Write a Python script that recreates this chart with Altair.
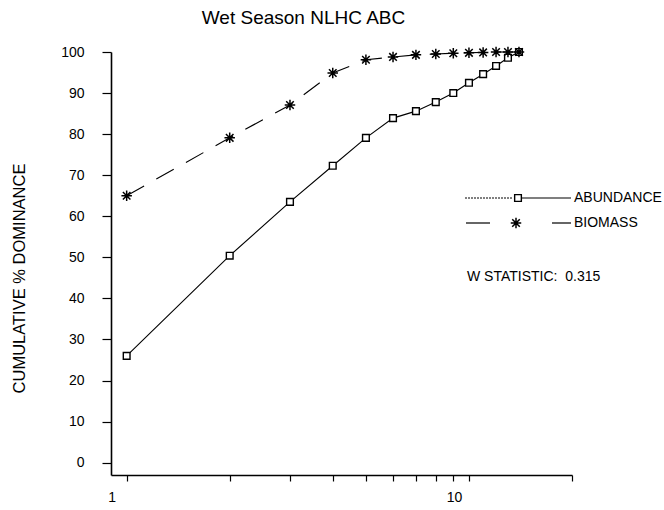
import altair as alt
import pandas as pd

# ---- data ----
ranks = list(range(1, 15))
abundance = [26.0, 50.4, 63.5, 72.3, 79.1, 83.9, 85.6, 87.8, 90.0, 92.5, 94.6, 96.6, 98.6, 100.0]
biomass = [65.0, 79.1, 87.1, 94.9, 98.1, 98.8, 99.3, 99.5, 99.7, 99.8, 99.9, 100.0, 100.0, 100.0]
x_ticks = [1, 2, 3, 4, 5, 6, 7, 8, 9, 10, 20]
x_labelled = [1, 10]
y_ticks = list(range(0, 101, 10))
title_text = "Wet Season NLHC ABC"
y_title = "CUMULATIVE % DOMINANCE"
legend_names = ["ABUNDANCE", "BIOMASS"]
w_stat_text = "W STATISTIC:\u00a0 0.315"

FONT = "Liberation Sans"
W, H = 461, 423
FS = 14

ab_df = pd.DataFrame({"rank": ranks, "value": abundance})
bm_df = pd.DataFrame({"rank": ranks, "value": biomass})
one = pd.DataFrame({"k": [0]})

label_expr = "indexof([" + ",".join(str(v) for v in x_labelled) + "], datum.value) >= 0 ? datum.value : ''"

x_enc = alt.X(
    "rank:Q",
    scale=alt.Scale(type="log", domain=[0.9, 20], nice=False),
    axis=alt.Axis(
        values=x_ticks, labelExpr=label_expr, title=None, grid=False,
        tickSize=6, labelPadding=9, labelOffset=-15, labelOverlap=False,
        labelFlush=False, domainColor="black", domainWidth=1.6, tickColor="black",
        tickWidth=1.2, labelColor="black", labelFont=FONT, labelFontSize=FS,
    ),
)
y_enc = alt.Y(
    "value:Q",
    scale=alt.Scale(domain=[-3, 100], nice=False, zero=False),
    axis=alt.Axis(
        values=y_ticks, title=y_title, grid=False, tickSize=9, labelPadding=18,
        titleX=-92, titleY=226, titleAngle=270, titleAlign="center",
        titleBaseline="middle", titleFont=FONT, titleFontSize=16.5,
        titleFontWeight="normal", titleColor="black",
        domainColor="black", domainWidth=1.6, tickColor="black", tickWidth=1.2,
        labelColor="black", labelFont=FONT, labelFontSize=FS,
    ),
)

star_path = "M-1,0L1,0M0,-1L0,1M-0.72,-0.72L0.72,0.72M-0.72,0.72L0.72,-0.72"

ab_line = alt.Chart(ab_df).mark_line(color="black", strokeWidth=1.1).encode(x=x_enc, y=y_enc)
ab_pts = alt.Chart(ab_df).mark_point(
    shape="square", size=45, filled=True, fill="white", stroke="black", strokeWidth=1.4, opacity=1
).encode(x="rank:Q", y="value:Q")
bm_line = alt.Chart(bm_df).mark_line(color="black", strokeWidth=1.1, strokeDash=[20, 14]).encode(
    x="rank:Q", y="value:Q"
)
bm_pts = alt.Chart(bm_df).mark_point(
    shape=star_path, size=110, filled=False, stroke="black", strokeWidth=1.5, opacity=1
).encode(x="rank:Q", y="value:Q")

# ---- legend drawn in the plot ----
ly1, ly2 = 146, 171
leg = [
    alt.Chart(one).mark_rule(color="black", strokeWidth=1, strokeDash=[2, 1]).encode(
        x=alt.value(354), x2=alt.value(402), y=alt.value(ly1)),
    alt.Chart(one).mark_rule(color="black", strokeWidth=1.2).encode(
        x=alt.value(411), x2=alt.value(460), y=alt.value(ly1)),
    alt.Chart(one).mark_point(shape="square", size=45, filled=True, fill="white",
                              stroke="black", strokeWidth=1.4, opacity=1).encode(
        x=alt.value(407), y=alt.value(ly1)),
    alt.Chart(one).mark_text(align="left", baseline="middle", font=FONT, fontSize=FS).encode(
        x=alt.value(463), y=alt.value(ly1), text=alt.value(legend_names[0])),
    alt.Chart(one).mark_rule(color="black", strokeWidth=1.2).encode(
        x=alt.value(355), x2=alt.value(379), y=alt.value(ly2)),
    alt.Chart(one).mark_rule(color="black", strokeWidth=1.2).encode(
        x=alt.value(441), x2=alt.value(460), y=alt.value(ly2)),
    alt.Chart(one).mark_point(shape=star_path, size=110, filled=False, stroke="black",
                              strokeWidth=1.5, opacity=1).encode(
        x=alt.value(405), y=alt.value(ly2)),
    alt.Chart(one).mark_text(align="left", baseline="middle", font=FONT, fontSize=FS).encode(
        x=alt.value(463), y=alt.value(ly2), text=alt.value(legend_names[1])),
    alt.Chart(one).mark_text(align="left", baseline="middle", font=FONT, fontSize=FS).encode(
        x=alt.value(356), y=alt.value(225), text=alt.value(w_stat_text)),
]

chart = alt.layer(ab_line, ab_pts, bm_line, bm_pts, *leg).properties(
    width=W, height=H,
    background="white",
    padding={"left": 111, "top": 52, "right": 92, "bottom": 35},
    autosize=alt.AutoSizeParams(type="none"),
    title=alt.TitleParams(title_text, anchor="middle", dx=-38, offset=16,
                          font=FONT, fontSize=19, fontWeight="normal", color="black"),
).configure_view(stroke=None)

chart.save("out.html", embed_options={"renderer": "svg", "actions": False})
